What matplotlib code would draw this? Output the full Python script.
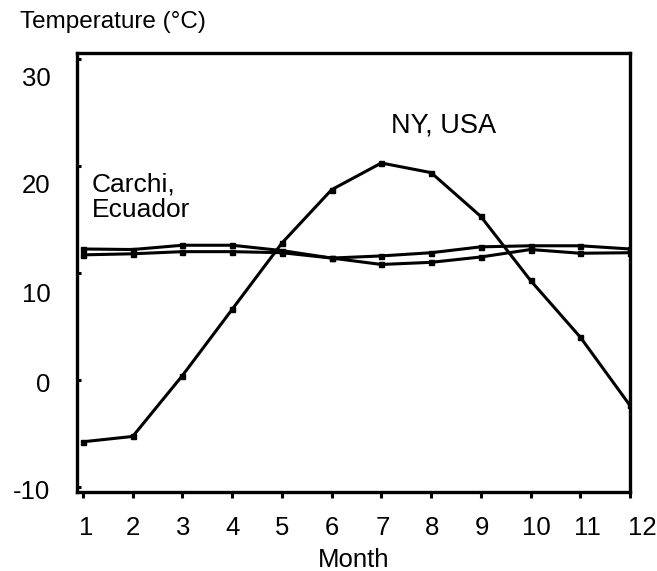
import numpy as np
import matplotlib.pyplot as plt
from matplotlib.transforms import ScaledTranslation

plt.rcParams['font.family'] = ['Liberation Sans', 'DejaVu Sans']
plt.rcParams['axes.unicode_minus'] = False

months = np.arange(1, 13)
ny_usa = [-5.8, -5.3, 0.4, 6.6, 12.8, 17.8, 20.3, 19.4, 15.3, 9.3, 4.0, -2.4]
carchi_a = [12.25, 12.2, 12.6, 12.6, 12.1, 11.4, 11.6, 11.9, 12.45, 12.55, 12.55, 12.25]
carchi_b = [11.7, 11.8, 12.0, 12.0, 11.9, 11.4, 10.8, 11.0, 11.5, 12.2, 11.85, 11.9]
y_ticks = [-10, 0, 10, 20, 30]

fig = plt.figure(figsize=(6.57, 5.71), dpi=100)
ax = fig.add_axes([0.1172, 0.1384, 0.8417, 0.7688])

for series in (ny_usa, carchi_a, carchi_b):
  ax.plot(months, series, color='black', lw=2.2, marker='s', ms=3.6,
          solid_joinstyle='miter')

ax.set_xlim(0.88, 12.0)
ax.set_ylim(-10.5, 30.6)
ax.set_xticks(months)
ax.set_yticks(y_ticks)
ax.tick_params(axis='x', direction='out', length=4, width=2.2, pad=13, labelsize=18.5)
ax.tick_params(axis='y', direction='in', length=3, width=2.2, pad=19, labelsize=18.5)
for sp in ax.spines.values():
  sp.set_linewidth(2.4)
ax.set_xlabel('Month', fontsize=18.5, labelpad=6)

# tick labels sit a bit below their tick marks in the original
y_shift = [-3, -3, -19, -17, -17]
for lab, dy in zip(ax.get_yticklabels(), y_shift):
  lab.set_transform(lab.get_transform() + ScaledTranslation(0, dy / 100, fig.dpi_scale_trans))
x_shift = [3, 0, 1, 0, 0, 0, 1, 1, 1, 6, 7, 12]
for lab, dx in zip(ax.get_xticklabels(), x_shift):
  lab.set_transform(lab.get_transform() + ScaledTranslation(dx / 100, 0, fig.dpi_scale_trans))

ax.text(1.18, 17.1, 'Carchi,\nEcuador', fontsize=19, ha='left', va='center', linespacing=1.1)
ax.text(8.26, 23.85, 'NY, USA', fontsize=19.5, ha='center', va='center')
fig.text(20 / 657, 1 - 28 / 571, 'Temperature (°C)', fontsize=17.5, ha='left', va='baseline')

fig.savefig('out.png', dpi=100)
